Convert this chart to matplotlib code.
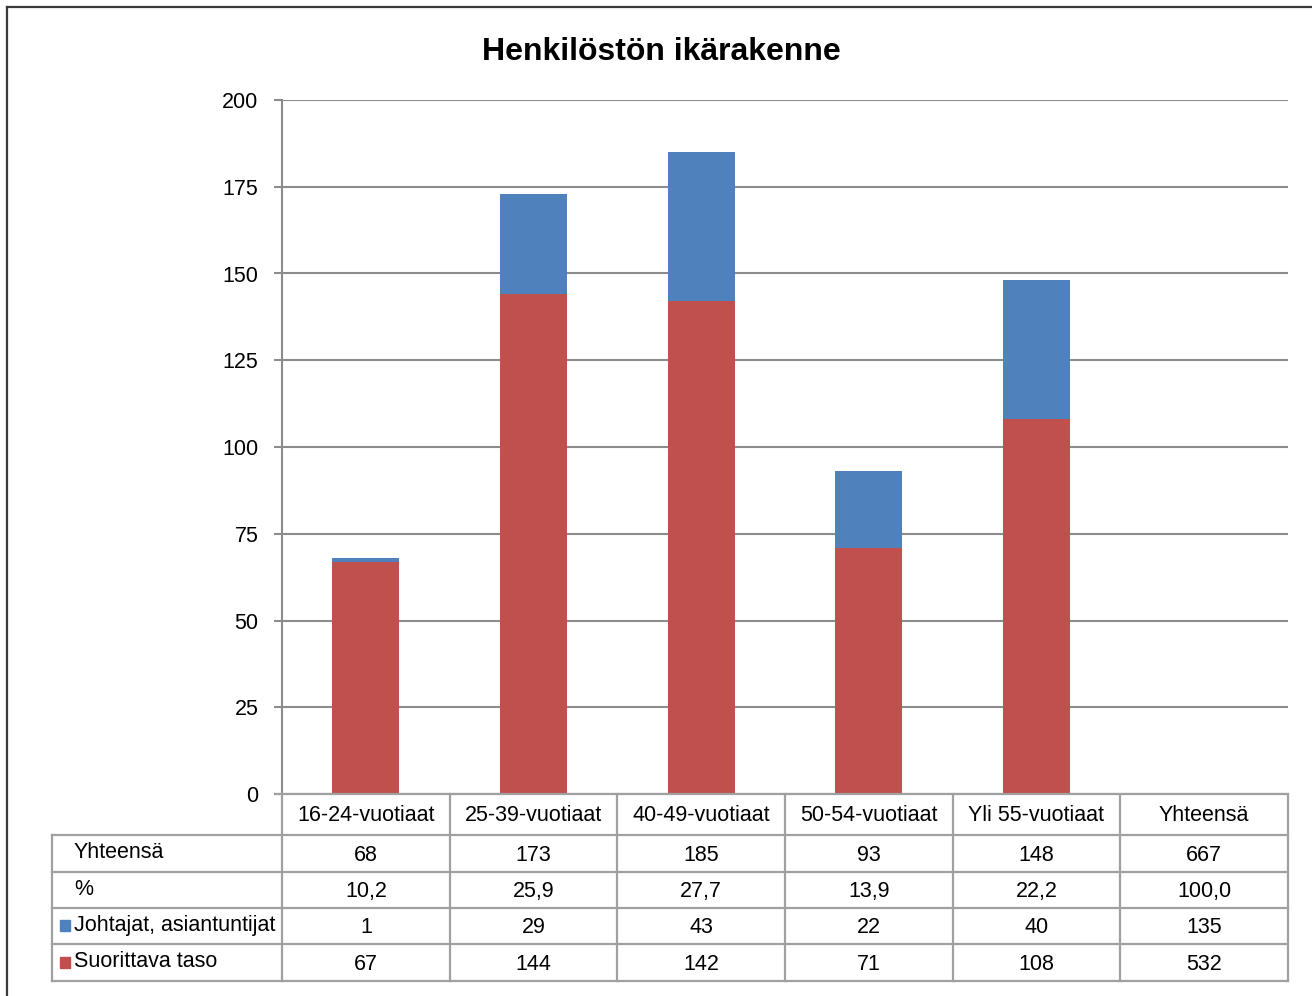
import matplotlib
matplotlib.use("Agg")
import matplotlib.pyplot as plt
from matplotlib.patches import Rectangle
from matplotlib.lines import Line2D

plt.rcParams['font.family'] = ['Liberation Sans', 'DejaVu Sans']

# data
categories = ['16-24-vuotiaat', '25-39-vuotiaat', '40-49-vuotiaat',
              '50-54-vuotiaat', 'Yli 55-vuotiaat', 'Yhteensä']
suorittava = [67, 144, 142, 71, 108, 532]
johtajat = [1, 29, 43, 22, 40, 135]
yhteensa = [68, 173, 185, 93, 148, 667]
prosentti = ['10,2', '25,9', '27,7', '13,9', '22,2', '100,0']
row_labels = ['Yhteensä', '%', 'Johtajat, asiantuntijat', 'Suorittava taso']
y_ticks = [0, 25, 50, 75, 100, 125, 150, 175, 200]

blue = '#4F81BD'
red = '#C0504D'
grid_c = '#8c8c8c'
tab_c = '#a0a0a0'
fs = 15.5

W, H = 1312, 996
fig = plt.figure(figsize=(W / 100, H / 100), dpi=100)

# plot area in pixels
L, R, T, B = 282, 1288, 100, 794
ax = fig.add_axes([L / W, 1 - B / H, (R - L) / W, (B - T) / H])
n_bars = 5
x = list(range(n_bars))
ax.bar(x, suorittava[:n_bars], width=0.4, color=red, zorder=3)
ax.bar(x, johtajat[:n_bars], width=0.4, bottom=suorittava[:n_bars], color=blue, zorder=3)
ax.set_xlim(-0.5, len(categories) - 0.5)
ax.set_ylim(0, 200)
ax.set_yticks(y_ticks)
ax.set_yticklabels([str(v) for v in y_ticks], fontsize=fs)
ax.set_xticks([])
ax.grid(axis='y', color=grid_c, lw=1.5, zorder=1)
for s in ['top', 'right', 'bottom']:
    ax.spines[s].set_visible(False)
ax.spines['left'].set_color(grid_c)
ax.spines['left'].set_linewidth(1.5)
ax.tick_params(axis='y', length=6, width=1.5, color=grid_c, pad=11)

fig.text(661 / W, 1 - 52 / H, 'Henkilöstön ikärakenne', fontsize=23,
         fontweight='bold', ha='center', va='center')

# data table below the axis
slot = (R - L) / len(categories)
TL, TB = 52, 981
tax = fig.add_axes([TL / W, 1 - TB / H, (R - TL) / W, (TB - B) / H])
tax.set_xlim(-0.5 - (L - TL) / slot, len(categories) - 0.5)
tax.set_ylim(TB - B, 0)
tax.axis('off')


def px2x(px):
    return -0.5 - (L - px) / slot


row_edges = [0, 41, 78, 114, 150, 187]
xl = px2x(TL)
xr = len(categories) - 0.5
lk = dict(color=tab_c, lw=1.6, clip_on=False, solid_capstyle='projecting')

# horizontal lines
tax.plot([px2x(276), xr], [0, 0], **lk)
for y in row_edges[1:]:
    tax.plot([xl, xr], [y, y], **lk)
# vertical lines
for i in range(len(categories) + 1):
    tax.plot([i - 0.5, i - 0.5], [0, row_edges[-1]], **lk)
tax.plot([xl, xl], [row_edges[1], row_edges[-1]], **lk)

# header
for i, c in enumerate(categories):
    tax.text(i, (row_edges[0] + row_edges[1]) / 2 + 0.5, c, ha='center', va='center', fontsize=fs)

rows = [yhteensa, prosentti, johtajat, suorittava]
colors = [None, None, blue, red]
for r, (lab, vals, col) in enumerate(zip(row_labels, rows, colors)):
    yc = (row_edges[r + 1] + row_edges[r + 2]) / 2
    tax.text(px2x(74), yc - 1, lab, ha='left', va='center', fontsize=fs)
    if col is not None:
        tax.add_patch(Rectangle((px2x(60), yc - 6), px2x(70) - px2x(60), 11,
                                color=col, clip_on=False))
    for i, v in enumerate(vals):
        tax.text(i, yc + 1.5, str(v), ha='center', va='center', fontsize=fs)

# outer frame (left and top edges)
fig.add_artist(Line2D([7 / W, 7 / W], [0, 1 - 7 / H], color='#3a3a3a', lw=1.6))
fig.add_artist(Line2D([7 / W, 1], [1 - 7 / H, 1 - 7 / H], color='#3a3a3a', lw=1.6))

fig.savefig('out.png', dpi=100)
